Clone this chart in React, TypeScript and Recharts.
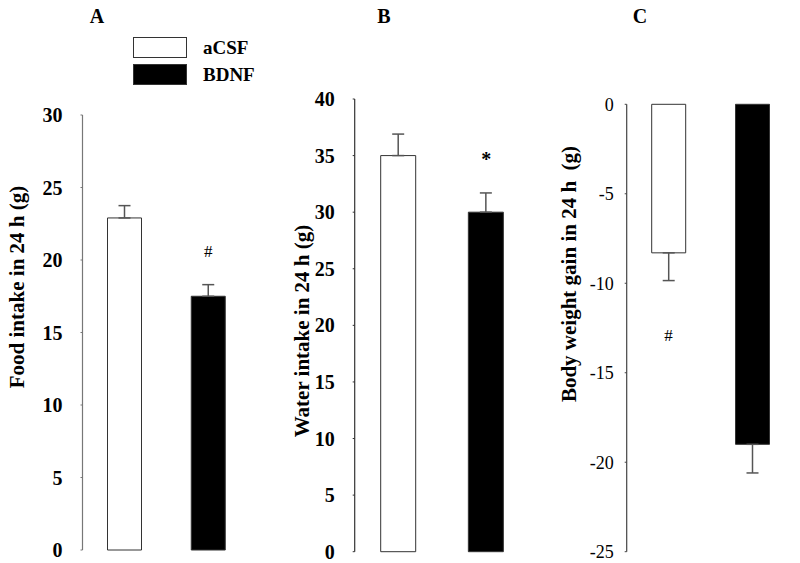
import React from 'react';
import { BarChart, Bar, XAxis, YAxis, ErrorBar, Cell, ReferenceDot } from 'recharts';

const groups = ['aCSF', 'BDNF'];
const groupFills = ['#ffffff', '#000000'];

const foodIntake = [22.9, 17.5];
const foodErr = [0.85, 0.8];
const foodTicks = [0, 5, 10, 15, 20, 25, 30];

const waterIntake = [35.0, 30.0];
const waterErr = [1.9, 1.7];
const waterTicks = [0, 5, 10, 15, 20, 25, 30, 35, 40];

const weightGain = [-8.3, -19.0];
const weightErr = [1.55, 1.6];
const weightTicks = [-25, -20, -15, -10, -5, 0];

const foodMarks = [{ group: 'BDNF', y: 20.2, text: '#' }];
const waterMarks = [{ group: 'BDNF', y: 34.1, text: '*' }];
const weightMarks = [{ group: 'aCSF', y: -13.2, text: '#' }];

const FONT = '"Liberation Serif", "Times New Roman", serif';

const foodData = groups.map((g, i) => ({ group: g, value: foodIntake[i], err: [0, foodErr[i]] }));
const waterData = groups.map((g, i) => ({ group: g, value: waterIntake[i], err: [0, waterErr[i]] }));
const weightData = groups.map((g, i) => ({ group: g, value: weightGain[i], err: [weightErr[i], 0] }));

const LegendBlock = ({ x, y }: { x: number; y: number }) => (
  <g transform={`translate(${x},${y})`}>
    {groups.map((g, i) => (
      <g key={g}>
        <rect x={0.5} y={0.5 + i * 27} width={53} height={20} fill={groupFills[i]} stroke="#333" strokeWidth={1} />
        <text x={70} y={17 + i * 27} fontFamily={FONT} fontWeight="bold" fontSize={19} fill="#000">{g}</text>
      </g>
    ))}
  </g>
);

type PanelProps = {
  left: number;
  width: number;
  data: any[];
  margin: { top: number; right: number; bottom: number; left: number };
  domain: [number, number];
  ticks: number[];
  tickBold: boolean;
  tickSize: number;
  tickMargin: number;
  axisColor: string;
  xTop?: boolean;
  barSize: number;
  marks: { group: string; y: number; text: string }[];
  markBold: boolean;
  markSize: number;
  title: string;
  titleX: number;
  titleY: number;
  letter: string;
  letterX: number;
  legend?: boolean;
};

function Panel(p: PanelProps) {
  return (
    <div style={{ position: 'absolute', left: p.left, top: 0, width: p.width, height: 563 }}>
      <BarChart width={p.width} height={563} data={p.data} margin={p.margin} barSize={p.barSize}>
        <XAxis
          dataKey="group"
          type="category"
          orientation={p.xTop ? 'top' : 'bottom'}
          height={0}
          tick={false}
          tickLine={false}
          axisLine={{ stroke: p.axisColor, strokeWidth: 1.2 }}
        />
        <YAxis
          type="number"
          domain={p.domain}
          ticks={p.ticks}
          interval={0}
          width={60}
          tickSize={p.tickSize}
          tickMargin={p.tickMargin}
          tickLine={{ stroke: p.axisColor }}
          axisLine={{ stroke: p.axisColor, strokeWidth: 1.2 }}
          tick={{ fill: '#000', fontSize: p.tickBold ? 20 : 18, fontWeight: p.tickBold ? 'bold' : 'normal', fontFamily: FONT }}
        />
        <Bar dataKey="value" isAnimationActive={false} stroke="#333" strokeWidth={1}>
          {p.data.map((d, i) => (
            <Cell key={d.group} fill={groupFills[i]} stroke="#333" />
          ))}
          <ErrorBar dataKey="err" direction="y" width={6} stroke="#555" strokeWidth={1.5} isAnimationActive={false} />
        </Bar>
        {p.marks.map((m, i) => (
          <ReferenceDot
            key={i}
            x={m.group}
            y={m.y}
            r={0}
            isFront
            shape={(sp: any) => (
              <text x={sp.cx} y={sp.cy} textAnchor="middle" fontFamily={FONT} fontSize={p.markSize} fontWeight={p.markBold ? 'bold' : 'normal'} fill="#000">
                {m.text}
              </text>
            )}
          />
        ))}
        {p.legend && <LegendBlock x={133} y={37} />}
        <text
          transform={`translate(${p.titleX},${p.titleY}) rotate(-90)`}
          textAnchor="middle"
          dominantBaseline="central"
          fontFamily={FONT}
          fontWeight="bold"
          fontSize={21}
          fill="#000"
          style={{ whiteSpace: 'pre' }}
        >
          {p.title}
        </text>
        <text x={p.letterX} y={23} textAnchor="middle" fontFamily={FONT} fontWeight="bold" fontSize={20} fill="#000">
          {p.letter}
        </text>
      </BarChart>
    </div>
  );
}

export default function App() {
  return (
    <div style={{ position: 'absolute', left: 0, top: 0, width: 800, height: 563, background: '#fff' }}>
      <Panel
        left={0}
        width={275}
        data={foodData}
        margin={{ top: 115, right: 25, bottom: 13, left: 22.5 }}
        domain={[0, 30]}
        ticks={foodTicks}
        tickBold
        tickSize={2}
        tickMargin={18}
        axisColor="#777"
        barSize={34}
        marks={foodMarks}
        markBold={false}
        markSize={17}
        title="Food intake in 24 h (g)"
        titleX={17}
        titleY={287}
        letter="A"
        letterX={97}
        legend
      />
      <Panel
        left={275}
        width={280}
        data={waterData}
        margin={{ top: 99, right: 25, bottom: 11.3, left: 19.7 }}
        domain={[0, 40]}
        ticks={waterTicks}
        tickBold
        tickSize={2}
        tickMargin={18}
        axisColor="#333"
        barSize={35}
        marks={waterMarks}
        markBold
        markSize={20}
        title="Water intake in 24 h (g)"
        titleX={27}
        titleY={331}
        letter="B"
        letterX={109}
      />
      <Panel
        left={555}
        width={245}
        data={weightData}
        margin={{ top: 104.3, right: 5.7, bottom: 11.3, left: 11.7 }}
        domain={[-25, 0]}
        ticks={weightTicks}
        tickBold={false}
        tickSize={2}
        tickMargin={11}
        axisColor="#444"
        xTop
        barSize={34}
        marks={weightMarks}
        markBold={false}
        markSize={17}
        title="Body weight gain in 24 h  (g)"
        titleX={14}
        titleY={274}
        letter="C"
        letterX={85}
      />
    </div>
  );
}
